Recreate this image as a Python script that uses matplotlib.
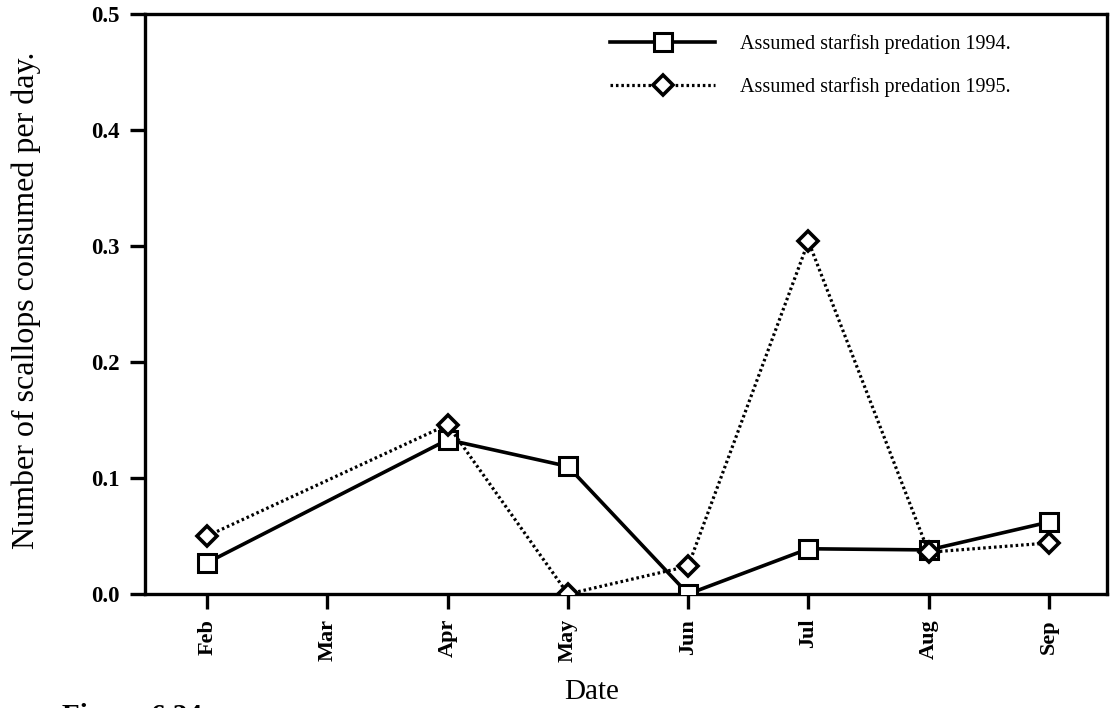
import matplotlib.pyplot as plt
import numpy as np

plt.rcParams['font.family'] = ['Liberation Serif', 'DejaVu Serif']

months = ['Feb', 'Mar', 'Apr', 'May', 'Jun', 'Jul', 'Aug', 'Sep']
# month numbers counted from Feb = 1
x_1994 = [1, 3, 4, 5, 6, 7, 8]
pred_1994 = [0.027, 0.133, 0.110, 0.0, 0.039, 0.038, 0.062]
x_1995 = [1, 3, 4, 5, 6, 7, 8]
pred_1995 = [0.050, 0.146, 0.0, 0.024, 0.304, 0.036, 0.044]

fig = plt.figure(figsize=(11.11, 7.08), dpi=100)
ax = fig.add_axes([145 / 1111, 1 - 594 / 708, (1107 - 145) / 1111, (594 - 14) / 708])

ax.plot(x_1994, pred_1994, '-', color='black', lw=2.6,
        marker='s', markersize=13, markerfacecolor='white',
        markeredgecolor='black', markeredgewidth=2.2,
        label='Assumed starfish predation 1994.', zorder=3)
ax.plot(x_1995, pred_1995, linestyle=(0, (0.8, 0.9)), color='black', lw=2.3,
        marker='D', markersize=10.5, markerfacecolor='white',
        markeredgecolor='black', markeredgewidth=2.6,
        label='Assumed starfish predation 1995.', zorder=4)

ax.set_xlim(0.483, 8.483)
ax.set_ylim(0, 0.5)
ax.set_xticks(np.arange(1, len(months) + 1))
ax.set_xticklabels(months, rotation=90, fontweight='bold', fontsize=16)
ax.set_yticks(np.arange(0, 0.51, 0.1))
ax.set_yticklabels(['%.1f' % v for v in np.arange(0, 0.51, 0.1)],
                   fontweight='bold', fontsize=16.5)
ax.tick_params(axis='both', direction='out', width=2.4, length=11, pad=7)

for s in ax.spines.values():
    s.set_linewidth(2.4)

ax.set_xlabel('Date', fontsize=21)
ax.xaxis.set_label_coords(0.464, -0.146)
ax.set_ylabel('Number of scallops consumed per day.', fontsize=23)
ax.yaxis.set_label_coords(-0.108, 0.507)

leg = ax.legend(loc='upper right', frameon=False, fontsize=14.5,
                handlelength=5.2, handletextpad=1.25, labelspacing=1.15,
                borderpad=0, borderaxespad=0,
                bbox_to_anchor=(1011 / 1111, 1 - 34 / 708),
                bbox_transform=fig.transFigure)

# caption sits at the very bottom edge, mostly below the page
fig.text(62 / 1111, 1 - 703 / 708, 'Figure 6.24', fontsize=21,
         fontweight='bold', va='top', ha='left')

fig.savefig('out.png', dpi=100)
